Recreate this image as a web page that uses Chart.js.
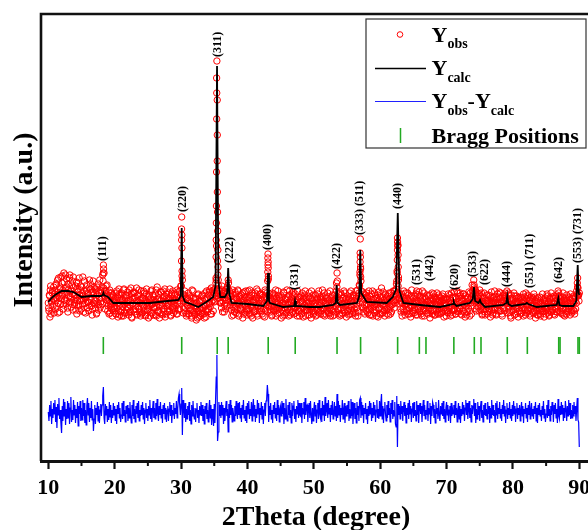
<!DOCTYPE html>
<html>
<head>
<meta charset="UTF-8">
<title>XRD Rietveld</title>
<script src="https://cdn.jsdelivr.net/npm/chart.js"></script>
<style>
  body { margin: 0; background: #fff; }
  canvas { display: block; }
</style>
</head>
<body>
<canvas id="xrd" width="588" height="530"></canvas>
<script>
// observed intensity, 2theta 10.0 .. 90.0 step 0.1 (a.u.)
const obsStart = 10, obsStep = 0.1;
const yObs = [
  158,150,165,171,147,160,168,155,174,162,
  170,152,176,163,181,158,167,149,172,184,
  162,185,171,156,179,168,186,160,174,153,
  177,165,183,158,170,162,180,151,173,166,
  158,175,163,147,169,178,155,166,160,171,
  152,168,184,161,157,170,148,164,176,159,
  167,150,181,163,172,155,146,169,158,174,
  161,153,170,148,166,177,156,163,171,159,
  168,174,186,196,188,170,162,175,158,166,
  155,169,160,148,164,157,152,166,150,161,
  152,163,147,170,158,144,166,155,161,149,
  168,151,159,145,172,157,163,148,165,154,
  160,146,171,156,150,167,143,162,158,169,
  149,164,155,173,147,159,166,152,161,145,
  170,157,148,163,154,168,146,160,172,151,
  158,143,166,155,162,149,171,157,146,164,
  153,167,159,145,174,150,163,156,148,169,
  161,147,158,170,152,165,144,160,167,155,
  149,163,156,172,146,159,168,153,162,157,
  166,150,161,147,171,158,164,152,169,163,
  168,244,181,160,152,166,149,158,145,163,
  155,168,147,160,151,164,143,157,170,149,
  158,146,162,141,155,150,167,144,159,148,
  152,165,147,160,156,143,168,151,162,157,
  149,166,158,171,154,163,147,170,161,168,
  159,172,165,181,400,200,176,163,170,158,
  166,153,171,160,168,149,163,158,172,155,
  174,181,162,170,156,164,151,167,159,146,
  160,153,167,148,162,157,170,145,158,164,
  151,166,155,143,161,169,149,157,163,146,
  158,170,152,164,147,160,155,168,143,159,
  165,149,161,156,172,145,158,163,150,167,
  154,161,147,166,152,158,144,169,156,162,
  150,207,165,158,149,163,155,146,160,152,
  167,154,159,145,163,151,170,157,148,161,
  155,143,164,150,158,168,146,153,161,149,
  162,157,145,166,151,159,148,163,155,169,
  147,160,167,153,158,145,162,156,150,164,
  152,165,148,159,144,163,156,170,151,158,
  160,146,155,168,150,157,143,162,154,166,
  149,163,157,145,161,152,167,148,159,155,
  164,150,158,171,146,160,153,165,147,157,
  155,168,148,161,153,145,163,157,166,150,
  159,146,162,155,170,188,164,151,158,145,
  161,153,166,148,157,163,150,168,155,144,
  158,165,151,162,147,159,170,154,163,149,
  166,152,160,145,163,157,171,149,168,175,
  222,180,165,158,169,153,162,147,166,156,
  150,164,157,170,146,159,153,167,158,145,
  162,155,148,166,151,163,157,144,169,153,
  158,147,173,156,164,150,161,145,167,155,
  152,165,158,146,162,154,168,149,160,157,
  165,153,170,161,172,180,223,175,168,163,
  160,152,167,145,158,163,149,156,168,151,
  157,162,147,166,153,159,144,165,155,150,
  163,148,158,151,167,170,146,160,154,164,
  149,161,156,145,163,152,168,157,150,162,
  155,166,147,159,153,143,161,156,168,150,
  160,151,164,146,157,162,148,155,166,152,
  147,158,153,165,149,161,144,157,163,151,
  156,162,148,159,152,166,145,160,155,150,
  163,158,151,164,147,157,153,168,149,160,
  152,165,155,146,161,150,167,157,144,162,
  158,149,164,153,160,145,168,155,163,170,
  166,181,172,160,165,152,168,158,163,150,
  171,165,154,160,147,158,152,163,146,157,
  155,161,149,166,152,158,144,163,151,160,
  148,159,164,153,161,146,157,167,150,169,
  156,163,150,158,145,161,153,166,160,164,
  158,170,162,152,166,149,157,143,161,155,
  162,151,157,165,147,160,153,158,144,163,
  150,164,156,148,161,155,167,152,159,146,
  157,162,151,165,153,160,145,158,164,149,
  163,148,156,160,143,155,150,161,146,158,
  152,159,147,163,155,149,161,144,157,153,
  160,154,165,150,158,146,162,155,149,164,
  151,163,157,146,160,153,166,149,170,168,
  158,150,162,155,147,164,152,159,145,161,
  154,166,149,157,152,163,146,160,155,150,
  162,151,158,147,160,164,170,178,173,166,
  168
];
// observed intensity at the half steps, 2theta 10.05 .. 89.95
const yObsMid = [
  153,166,144,175,159,151,170,162,148,167,
  160,177,155,169,148,183,163,174,157,165,
  178,166,152,188,161,173,157,182,168,149,
  171,159,186,164,154,176,167,184,161,156,
  166,151,179,160,172,156,183,150,175,162,
  174,157,165,149,180,163,158,171,153,168,
  159,173,155,177,161,169,152,180,166,157,
  172,160,147,174,158,151,168,181,154,170,
  163,157,180,173,165,152,170,161,176,150,
  162,147,171,156,153,168,145,159,165,154,
  159,147,168,153,164,150,172,146,157,166,
  145,162,154,171,148,160,166,151,158,169,
  153,166,149,160,173,144,157,168,151,163,
  168,152,160,146,165,154,171,149,158,162,
  147,163,156,170,150,161,145,167,155,159,
  164,152,160,145,170,157,148,166,153,161,
  158,146,171,154,162,149,167,143,160,156,
  169,155,146,163,150,172,158,147,164,152,
  157,168,150,161,145,166,154,170,148,160,
  152,167,155,163,147,160,151,170,158,175,
  175,185,163,148,159,170,153,162,147,156,
  161,147,165,153,158,145,171,150,163,155,
  147,163,152,158,143,166,149,160,153,145,
  160,149,166,153,147,162,155,144,170,151,
  163,152,169,157,147,173,159,165,150,171,
  168,160,178,215,300,186,167,172,160,165,
  158,175,149,163,170,156,166,152,161,169,
  172,178,165,153,168,160,145,171,154,162,
  149,169,156,163,152,171,159,147,165,153,
  162,151,168,158,147,164,155,170,150,161,
  152,163,148,171,156,145,166,153,161,149,
  159,168,151,163,147,170,155,160,166,152,
  167,150,160,145,164,157,171,151,163,168,
  180,182,154,167,151,160,145,168,156,164,
  150,162,171,154,158,147,165,152,163,156,
  166,151,158,145,169,153,162,157,148,171,
  152,164,159,170,146,161,154,167,149,158,
  165,153,148,161,156,170,150,164,145,159,
  160,147,168,153,162,151,166,145,163,154,
  151,164,158,146,163,153,170,150,160,147,
  158,152,166,155,146,163,151,170,155,162,
  147,161,153,164,152,168,145,158,163,151,
  163,150,159,147,170,156,151,164,145,160,
  152,166,149,163,158,180,152,167,147,161,
  168,146,157,163,151,170,159,148,162,157,
  150,161,146,168,155,164,151,160,147,166,
  156,164,148,170,153,160,145,165,176,186,
  192,170,154,162,149,167,156,163,151,168,
  163,148,160,152,165,156,146,161,170,154,
  151,168,157,163,145,159,166,152,160,147,
  164,152,160,148,169,157,151,166,159,162,
  147,160,151,168,155,147,163,156,164,170,
  160,170,158,167,177,190,215,184,162,157,
  166,149,158,163,152,170,160,146,157,163,
  150,168,154,160,147,163,156,171,148,159,
  157,153,165,146,160,158,166,152,169,150,
  165,147,160,170,150,158,145,164,156,153,
  148,160,165,151,166,157,150,163,147,161,
  167,146,158,162,150,168,159,147,160,164,
  155,163,148,160,167,152,161,150,158,145,
  162,150,167,155,163,148,157,168,146,164,
  151,169,158,147,162,170,150,159,164,153,
  168,147,160,163,150,167,156,148,165,155,
  146,163,157,169,150,162,158,147,176,166,
  162,176,158,171,150,160,165,154,158,167,
  160,151,168,146,163,155,168,149,160,152,
  166,147,158,160,150,165,155,169,157,146,
  163,151,170,158,147,162,153,156,164,158,
  150,168,159,147,165,153,160,150,168,157,
  163,160,148,168,155,162,145,166,150,158,
  155,168,146,159,153,165,149,163,157,150,
  160,147,163,153,158,145,160,164,151,168,
  148,156,166,150,161,147,163,152,155,161,
  155,167,150,164,152,159,146,163,153,150,
  164,145,158,152,167,156,150,160,163,147,
  152,167,148,160,145,163,154,168,159,151,
  158,147,165,152,163,149,160,155,164,160,
  165,155,148,160,153,168,146,162,157,152,
  147,161,158,152,164,155,167,150,148,163,
  157,165,150,163,152,158,167,183,165,160
];
// extra observed points on the flanks of the sharp reflections [2theta, I]
const yObsPeaks = [
  [18.27,188],[18.33,192],
  [30.08,232],[30.12,226],[30.09,221],[30.13,213],[30.07,200],[30.15,190],
  [35.36,383],[35.38,368],[35.45,361],[35.37,342],[35.46,326],[35.35,289],[35.47,269],
  [35.33,255],[35.5,249],[35.32,238],[35.52,230],[35.3,221],[35.55,211],[35.28,204],
  [35.57,194],[35.27,183],[35.6,181],
  [43.08,203],[43.12,199],[43.1,196],[43.13,193],[43.07,189],[43.15,185],
  [53.42,178],[53.48,174],
  [56.98,208],[57.02,204],[56.97,199],[57.04,194],[56.95,189],[57.06,184],
  [62.62,219],[62.68,216],[62.6,211],[62.7,206],[62.58,201],[62.72,194],[62.56,188],[62.75,181],
  [74.15,174],[74.1,170],
  [89.74,174],[89.78,166]
];
// calculated profile [2theta, I]
const yCalc = [
  [10,159],[10.5,163],[11,166],[12,170],[13,170],[13.8,169],[15,164],[16.5,165],[18,165],
  [18.2,166],[18.3,168],[18.4,166],[19,164],[19.8,158],[22,158],[25.3,158],[28,160],[29.6,161],
  [29.95,165],[30.1,233],[30.25,165],[30.6,159],[31.5,157],[32.6,154],[33.8,159],[34.85,164],
  [35.2,175],[35.42,395],[35.62,180],[35.9,164],[36.6,164],[36.95,168],[37.1,193],[37.25,168],
  [37.6,158],[40,157],[42.4,155],[42.95,160],[43.1,188],[43.25,160],[43.4,158],[45.4,154],
  [47.05,155],[47.17,160],[47.3,155],[49.4,154],[50.9,154],[52.9,156],[53.3,158],[53.45,176],
  [53.6,158],[53.95,156],[56.5,158],[56.85,165],[57.0,211],[57.15,168],[57.97,159],[60.98,158],
  [61.9,164],[62.4,172],[62.65,248],[62.9,170],[63.5,158],[66,156],[69,154],[70.5,156],
  [71.0,157],[71.1,159],[71.2,157],[71.5,155],[73.5,158],[73.95,162],[74.13,174],[74.3,160],
  [74.8,158],[75.04,161],[75.2,158],[75.8,154],[78.55,156],[79.0,158],[79.15,165],[79.3,157],
  [79.8,155],[81.9,157],[82.1,158],[82.3,157],[83.6,154],[86.6,156],[86.84,163],[87.0,156],
  [87.5,155],[89.1,155],[89.55,160],[89.76,196],[89.9,168],[90,166]
];
// Yobs - Ycalc, 2theta 10.0 .. 90.0 step 0.1, plotted around diffBase
const diffBase = 49;
const yDiff = [
  0,-9,7,-4,11,-12,3,-6,9,-2,
  12,-10,5,-16,8,-3,14,-7,2,-11,
  -21,6,-9,13,-4,10,-13,3,-7,11,
  -6,9,-12,4,15,-10,2,-8,12,-3,
  7,-11,3,-6,10,-14,6,-2,11,-9,
  4,-8,12,-4,9,-11,2,-13,6,14,
  -3,9,-10,4,-6,11,-8,3,-19,-7,
  7,-12,4,-3,10,-9,6,-11,2,8,
  -4,7,16,25,-6,-12,8,-3,6,-10,
  3,-8,10,-5,7,-11,2,-6,9,-3,
  6,-9,3,-12,7,-2,10,-6,4,-10,
  -3,9,-7,11,-4,2,-10,6,-2,7,
  -9,4,-6,10,-3,-11,7,-4,12,-7,
  3,-10,6,-2,9,-6,11,-9,2,-4,
  7,-3,10,-7,4,-12,2,9,-6,3,
  -9,6,-3,12,-7,4,-10,2,11,-6,
  4,-7,9,-4,13,-2,-9,6,-3,10,
  -6,3,-11,7,-2,9,-7,4,-10,2,
  6,-9,3,10,-4,7,-11,2,-3,9,
  -7,4,-2,11,-6,3,14,18,6,-3,
  8,24,-23,12,4,-6,9,-10,3,-7,
  6,-3,10,-9,2,-12,7,-4,11,-2,
  -7,4,-10,3,9,-6,2,-11,6,-3,
  10,-4,7,-9,3,-12,6,-2,9,-7,
  2,-10,4,12,-6,7,-13,3,-4,-14,
  8,-11,12,35,57,-29,-20,10,-4,7,
  -6,10,-3,7,-12,4,-9,2,11,-4,
  3,-20,8,-6,12,-3,7,-10,4,-2,
  -9,6,-4,11,-2,-7,9,-3,10,-6,
  4,-10,7,-3,12,-6,2,-9,6,-11,
  9,-2,11,-7,3,-4,10,-9,6,13,
  -4,7,-10,3,-6,12,-2,9,-11,4,
  -3,10,-7,6,-12,2,9,-4,11,13,
  27,18,-10,6,-3,9,-7,2,-11,7,
  -2,10,-6,4,-9,12,-3,7,-10,3,
  6,-4,11,-2,9,-12,4,-7,13,-3,
  -9,7,-3,10,-6,2,-11,9,-4,6,
  11,-7,3,-10,6,-2,12,-6,9,-3,
  -4,9,-11,4,-2,10,-7,14,-3,6,
  7,-10,2,9,-6,11,-3,-12,4,-9,
  3,10,-4,7,-11,2,9,-7,12,-2,
  -6,4,-10,11,-3,7,-9,15,-4,2,
  9,-6,12,-2,4,-10,7,-3,11,-7,
  -2,10,-4,6,-9,18,-6,11,-3,7,
  -10,4,-3,12,-7,2,9,-11,6,-4,
  7,-2,11,-9,3,-6,13,-4,10,-12,
  2,9,-7,4,-11,10,-3,6,-9,12,
  14,-6,10,-3,7,-11,4,-2,9,-7,
  3,-12,6,-4,11,-2,9,-9,4,-6,
  10,-3,7,-10,2,12,-6,3,-7,11,
  -4,9,18,-7,6,-11,3,10,-2,-9,
  7,-6,11,-3,4,-10,9,-2,12,-7,
  2,-4,10,-12,-15,16,-35,8,-3,6,
  -7,11,-2,6,-9,3,10,-4,7,-11,
  4,-3,9,-7,12,-2,6,-10,3,9,
  -6,10,-4,2,-9,11,-3,7,-11,4,
  9,-2,6,-10,3,12,-4,7,-7,2,
  -3,11,-9,4,-2,9,-12,6,-4,10,
  7,-6,3,-11,10,-2,4,-7,12,-3,
  -9,6,-2,9,-4,11,-7,3,-10,4,
  10,-3,7,-9,2,6,-11,9,-4,3,
  -2,7,-6,11,-3,4,-10,2,9,-7,
  6,-11,3,-4,10,-2,7,-9,4,12,
  -3,9,-7,2,11,-6,4,-10,7,-2,
  6,13,-4,9,-11,3,-7,10,-3,6,
  -9,4,11,-6,2,-10,7,-3,9,-4,
  3,-7,10,-2,6,-11,4,-6,12,-3,
  7,-4,2,-10,9,-3,11,-7,4,-2,
  10,-6,3,-9,7,-2,12,-4,6,-11,
  2,9,-7,4,-3,10,-6,3,-9,7,
  -4,11,-2,6,-10,3,9,-7,4,-3,
  7,-9,2,10,-4,6,-11,3,-2,9,
  -6,4,-10,7,-3,11,-7,2,9,-4,
  3,-7,6,-2,10,-9,4,-11,7,-3,
  9,-4,2,-9,6,-3,11,-6,3,-10,
  -2,7,-6,12,-4,3,-9,6,-3,10,
  4,-10,7,-2,9,-6,3,-11,13,-4,
  -7,6,-3,10,-2,7,-9,4,-6,11,
  3,-9,6,-4,12,-3,9,-7,2,-6,
  7,-4,10,-2,6,-9,3,14,-8,-10,
  -35
];
// Bragg reflections (2theta) and the level of their tick row
const braggPos = [18.29,30.1,35.45,37.1,43.13,47.2,53.5,57.05,62.63,65.9,66.9,71.1,74.18,75.19,79.15,82.17,86.9,87.1,89.8,90.0];
const braggLevel = 115.5;
// Miller index labels: text, 2theta, intensity where the text starts
const hklText = ['(111)','(220)','(311)','(222)','(400)','(331)','(422)','(333) (511)','(440)','(531)','(442)','(620)','(533)','(622)','(444)','(551) (711)','(642)','(553) (731)'];
const hklX = [18.24,30.25,35.57,37.37,43.15,47.17,53.54,56.96,62.64,65.47,67.5,71.27,74.03,75.8,79.06,82.57,86.99,89.8];
const hklY = [200,249,404,198,211,171,192,226,252,176,180,171,184,176,174,173,178,198];
// axis ticks
const xMajor = [10,20,30,40,50,60,70,80,90];
const xMinor = [15,25,35,45,55,65,75,85];

const SERIF = '"Liberation Serif", "Times New Roman", serif';

const obsPoints = yObs.map((v, i) => ({ x: +(obsStart + i * obsStep).toFixed(2), y: v }))
  .concat(yObsMid.map((v, i) => ({ x: +(obsStart + obsStep / 2 + i * obsStep).toFixed(2), y: v })))
  .concat(yObsPeaks.map(p => ({ x: p[0], y: p[1] })));
const diffPoints = yDiff.map((d, i) => ({ x: +(obsStart + i * obsStep).toFixed(2), y: diffBase + d }));

const decorations = {
  id: 'decorations',
  afterDraw(chart) {
    const ctx = chart.ctx, xs = chart.scales.x, ys = chart.scales.y, a = chart.chartArea;
    ctx.save();
    // frame (top and left)
    ctx.strokeStyle = '#111';
    ctx.lineWidth = 2.6;
    ctx.beginPath();
    ctx.moveTo(a.left, a.bottom);
    ctx.lineTo(a.left, a.top);
    ctx.lineTo(a.right + 2, a.top);
    ctx.stroke();
    // minor ticks
    ctx.lineWidth = 2;
    xMinor.forEach(v => {
      const px = xs.getPixelForValue(v);
      ctx.beginPath();
      ctx.moveTo(px, a.bottom);
      ctx.lineTo(px, a.bottom + 5);
      ctx.stroke();
    });
    // hkl labels
    ctx.fillStyle = '#000';
    ctx.font = 'bold 12px ' + SERIF;
    ctx.textAlign = 'left';
    ctx.textBaseline = 'middle';
    hklText.forEach((t, i) => {
      ctx.save();
      ctx.translate(xs.getPixelForValue(hklX[i]), ys.getPixelForValue(hklY[i]));
      ctx.rotate(-Math.PI / 2);
      ctx.fillText(t, 0, 0);
      ctx.restore();
    });
    // axis titles
    ctx.font = 'bold 28px ' + SERIF;
    ctx.textBaseline = 'alphabetic';
    ctx.textAlign = 'center';
    ctx.fillText('2Theta (degree)', 316, 525);
    ctx.save();
    ctx.translate(32, 220);
    ctx.rotate(-Math.PI / 2);
    ctx.fillText('Intensity (a.u.)', 0, 0);
    ctx.restore();
    // legend
    ctx.lineWidth = 1.2;
    ctx.strokeStyle = '#333';
    ctx.strokeRect(366, 19, 220, 129);
    ctx.strokeStyle = '#ff0000';
    ctx.lineWidth = 1;
    ctx.beginPath(); ctx.arc(400, 34.5, 2.8, 0, Math.PI * 2); ctx.stroke();
    ctx.strokeStyle = '#000'; ctx.lineWidth = 1.6;
    ctx.beginPath(); ctx.moveTo(375, 68.5); ctx.lineTo(426, 68.5); ctx.stroke();
    ctx.strokeStyle = '#2020ff'; ctx.lineWidth = 1.2;
    ctx.beginPath(); ctx.moveTo(375, 101.5); ctx.lineTo(426, 101.5); ctx.stroke();
    ctx.strokeStyle = '#22aa22'; ctx.lineWidth = 1.5;
    ctx.beginPath(); ctx.moveTo(400.5, 128); ctx.lineTo(400.5, 143); ctx.stroke();
    ctx.textAlign = 'left';
    const big = 'bold 22px ' + SERIF, small = 'bold 14px ' + SERIF;
    function runs(parts, x, y) {
      parts.forEach(p => {
        ctx.font = p[1] ? small : big;
        ctx.fillText(p[0], x, y + (p[1] ? 6.7 : 0));
        x += ctx.measureText(p[0]).width;
      });
    }
    runs([['Y', 0], ['obs', 1]], 431.5, 41.7);
    runs([['Y', 0], ['calc', 1]], 431.5, 75);
    runs([['Y', 0], ['obs', 1], ['-Y', 0], ['calc', 1]], 431.5, 108.3);
    runs([['Bragg Positions', 0]], 431.5, 142.7);
    ctx.restore();
  }
};

new Chart(document.getElementById('xrd'), {
  type: 'scatter',
  data: {
    datasets: [
      {
        label: 'Ycalc',
        data: yCalc.map(p => ({ x: p[0], y: p[1] })),
        showLine: true,
        borderColor: '#000',
        borderWidth: 1.8,
        pointRadius: 0,
        tension: 0,
        order: 0
      },
      {
        label: 'Yobs',
        data: obsPoints,
        showLine: false,
        pointStyle: 'circle',
        pointRadius: 3.2,
        pointBorderWidth: 1,
        borderColor: '#ff0000',
        backgroundColor: 'rgba(255,255,255,0)',
        order: 1
      },
      {
        label: 'Yobs-Ycalc',
        data: diffPoints,
        showLine: true,
        borderColor: '#0000ff',
        borderWidth: 1.2,
        pointRadius: 0,
        tension: 0,
        order: 2
      },
      {
        label: 'Bragg Positions',
        data: braggPos.map(x => ({ x: x, y: braggLevel })),
        showLine: false,
        pointStyle: 'line',
        rotation: 90,
        pointRadius: 8.5,
        pointBorderWidth: 1.6,
        borderColor: '#22aa22',
        order: 3
      }
    ]
  },
  options: {
    responsive: false,
    animation: false,
    layout: { autoPadding: false, padding: { left: 41, right: 0, top: 14, bottom: 0 } },
    plugins: { legend: { display: false }, tooltip: { enabled: false } },
    scales: {
      x: {
        type: 'linear',
        min: 8.9,
        max: 91.31,
        afterBuildTicks: s => { s.ticks = xMajor.map(v => ({ value: v })); },
        afterFit: s => { s.height = 69; s.paddingLeft = 0; s.paddingRight = 0; },
        grid: { drawOnChartArea: false, drawTicks: true, tickLength: 8, tickWidth: 2.2, tickColor: '#111' },
        border: { display: true, color: '#111', width: 3 },
        ticks: {
          color: '#000',
          padding: 6,
          maxRotation: 0,
          font: { family: SERIF, size: 22, weight: 'bold' },
          callback: v => String(v)
        }
      },
      y: {
        display: false,
        min: 0,
        max: 447
      }
    }
  },
  plugins: [decorations]
});
</script>
</body>
</html>
